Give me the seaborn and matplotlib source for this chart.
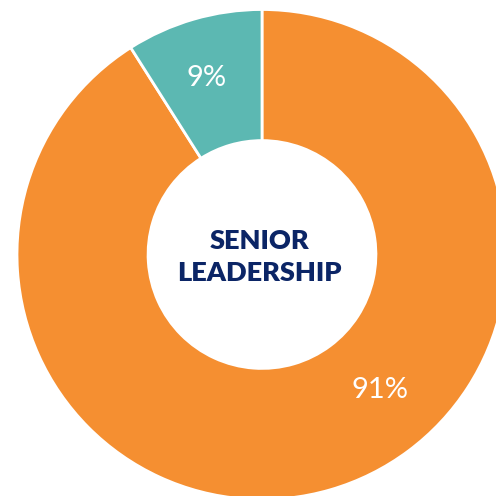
import matplotlib
matplotlib.use("Agg")
import matplotlib.pyplot as plt
import seaborn as sns

categories = ["Other", "Women"]
values = [91, 9]
pct_labels = ["91%", "9%"]
title_lines = ["SENIOR", "LEADERSHIP"]

sns.set_theme(style="white")
colors = sns.color_palette(["#f58f31", "#5cb8b2"])

R_PX = 245.0
CX, CY = 262.0, 254.5
fig = plt.figure(figsize=(4.96, 4.96), dpi=100)
ax = fig.add_axes([0, 0, 1, 1])
ax.pie(values, colors=colors, startangle=90, counterclock=False,
       radius=1.0,
       wedgeprops=dict(width=0.535, edgecolor="white", linewidth=2))
ax.set_xlim(-CX / R_PX, (496 - CX) / R_PX)
ax.set_ylim(-(496 - CY) / R_PX, CY / R_PX)
ax.set_aspect("equal")
ax.axis("off")

label_pos = [(0.483, -0.553), (-0.225, 0.722)]
for (x, y), t in zip(label_pos, pct_labels):
    ax.text(x, y, t, ha="center", va="center", color="white",
            fontsize=21, family="Lato", fontweight="normal")

ax.text(-0.01, 0.055, title_lines[0], ha="center", va="center", color="#0b2566",
        fontsize=19.5, family="Lato", fontweight="heavy")
ax.text(-0.01, -0.075, title_lines[1], ha="center", va="center", color="#0b2566",
        fontsize=19.5, family="Lato", fontweight="heavy")

fig.savefig("out.png", dpi=100)
